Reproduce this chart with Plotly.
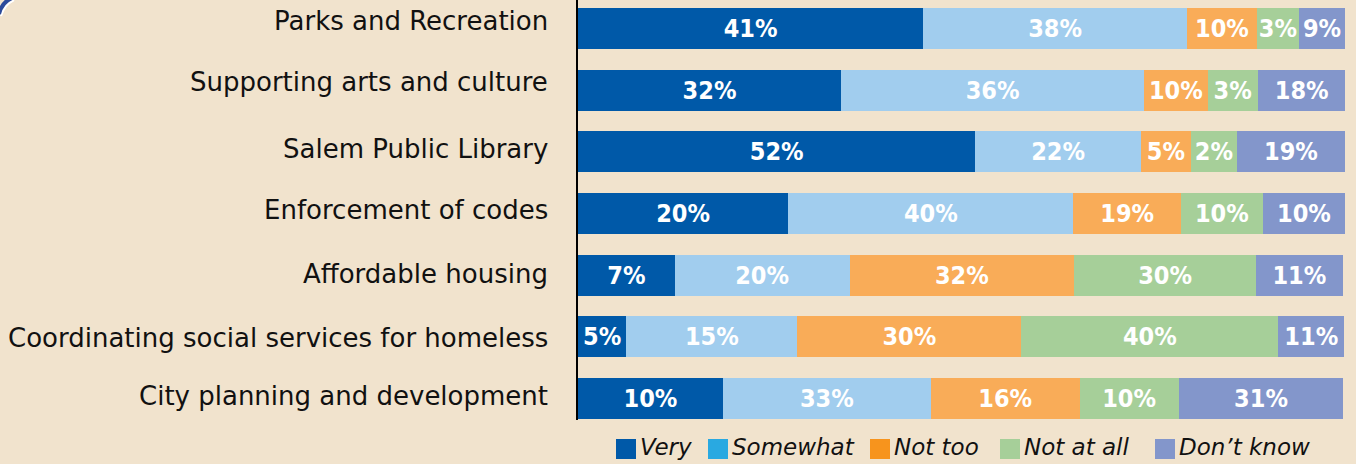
import plotly.graph_objects as go

# categories, top to bottom
categories = [
    "Parks and Recreation",
    "Supporting arts and culture",
    "Salem Public Library",
    "Enforcement of codes",
    "Affordable housing",
    "Coordinating social services for homeless",
    "City planning and development",
]

# bar lengths as drawn in the picture (they don't quite follow the printed labels)
very = [45.0, 34.3, 51.8, 27.4, 12.6, 6.3, 18.9]
somewhat = [34.4, 39.5, 21.6, 37.2, 22.8, 22.3, 27.1]
not_too = [9.1, 8.3, 6.5, 14.0, 29.3, 29.2, 19.4]
not_at_all = [5.5, 6.5, 6.0, 10.7, 23.7, 33.5, 12.9]
dont_know = [6.0, 11.5, 14.1, 10.7, 11.3, 8.6, 21.5]

# printed labels
very_lbl = ["41%", "32%", "52%", "20%", "7%", "5%", "10%"]
somewhat_lbl = ["38%", "36%", "22%", "40%", "20%", "15%", "33%"]
not_too_lbl = ["10%", "10%", "5%", "19%", "32%", "30%", "16%"]
not_at_all_lbl = ["3%", "3%", "2%", "10%", "30%", "40%", "10%"]
dont_know_lbl = ["9%", "18%", "19%", "10%", "11%", "11%", "31%"]

series_names = ["Very", "Somewhat", "Not too", "Not at all", "Don\u2019t know"]
bar_colors = ["#0059a8", "#a1cdee", "#f9ac58", "#a6cf99", "#8396cb"]
legend_colors = ["#0059a8", "#29a9e1", "#f7941d", "#a6cf99", "#8396cb"]

# the category names in the original don't sit exactly on their bars
label_nudge = [7.5, 8, 2.5, 3.8, 0.8, -1, 2]

BG = "#f1e3cd"
W, H = 1356, 464
L, R, T, B = 578, 11, 0, 44
PLOT_H = H - T - B

fig = go.Figure()
for name, vals, lbls, col in zip(
    series_names,
    [very, somewhat, not_too, not_at_all, dont_know],
    [very_lbl, somewhat_lbl, not_too_lbl, not_at_all_lbl, dont_know_lbl],
    bar_colors,
):
    fig.add_trace(go.Bar(
        y=categories, x=vals, orientation="h", name=name,
        marker=dict(color=col, line=dict(width=0)),
        text=lbls, textposition="inside", insidetextanchor="middle",
        textangle=0, constraintext="none",
        textfont=dict(family="DejaVu Sans Condensed, DejaVu Sans", size=25,
                      color="white", weight="bold"),
        width=0.665, hoverinfo="skip", showlegend=False,
    ))

# pixel -> paper helpers
def px_x(px):
    return (px - L) / (W - L - R)

def px_y(py):
    return (T + PLOT_H - py) / PLOT_H

shapes = []
annotations = []

# category names
for cat, dy in zip(categories, label_nudge):
    annotations.append(dict(xref="paper", yref="y", x=0, y=cat, xanchor="right",
                            yanchor="middle", xshift=-28, yshift=dy, showarrow=False,
                            text=cat,
                            font=dict(family="DejaVu Sans", size=26, color="#111111")))

# hand-made legend (square swatches + italic labels)
swatch_x = [616, 708, 870, 1000, 1155]
for sx, name, col in zip(swatch_x, series_names, legend_colors):
    shapes.append(dict(type="rect", xref="paper", yref="paper",
                       x0=px_x(sx), x1=px_x(sx + 20), y0=px_y(459), y1=px_y(439),
                       fillcolor=col, line=dict(width=0)))
    annotations.append(dict(xref="paper", yref="paper", x=px_x(sx + 22), y=px_y(447),
                            xanchor="left", yanchor="middle", showarrow=False,
                            text=name,
                            font=dict(family="DejaVu Sans", size=23, color="#111111",
                                      style="italic")))

# corner of the page frame, top-left
shapes.append(dict(type="path", xref="paper", yref="paper",
                   path="M %f,%f Q %f,%f %f,%f" % (px_x(1), px_y(16), px_x(4), px_y(5), px_x(14), px_y(0)),
                   line=dict(color="white", width=2)))
shapes.append(dict(type="path", xref="paper", yref="paper",
                   path="M %f,%f Q %f,%f %f,%f" % (px_x(-1), px_y(14), px_x(2), px_y(2), px_x(12), px_y(-2)),
                   line=dict(color="#2b4a9b", width=4)))

fig.update_layout(
    barmode="stack",
    width=W, height=H,
    margin=dict(l=L, r=R, t=T, b=B, pad=0),
    paper_bgcolor=BG, plot_bgcolor=BG,
    showlegend=False,
    shapes=shapes,
    annotations=annotations,
    font=dict(family="DejaVu Sans", color="#111111"),
)
fig.update_xaxes(range=[0, 100], visible=False, fixedrange=True)
fig.update_yaxes(
    type="category", range=[6.349, -0.462],
    showline=True, linecolor="black", linewidth=2,
    showgrid=False, zeroline=False, ticks="",
    showticklabels=False,
    fixedrange=True,
)

# drop the default page margin so the figure fills the window
fig.write_html("out.html", config={"displayModeBar": False},
               post_script="document.body.style.margin='0';document.body.style.overflow='hidden';")
